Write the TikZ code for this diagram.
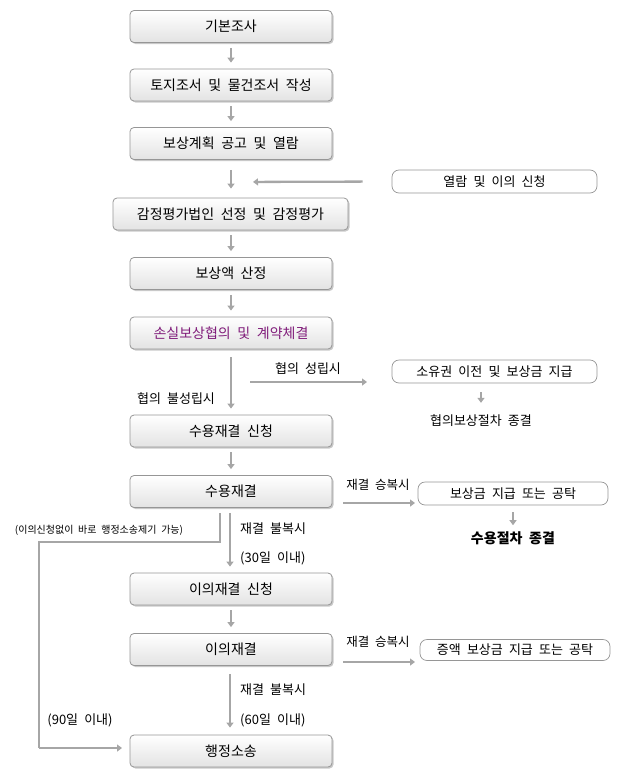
\documentclass[tikz,border=0pt]{standalone}
\usepackage{fontspec}
\setmainfont[WordSpace=2.1]{Noto Sans CJK KR}
\usetikzlibrary{arrows.meta,shadows}
\definecolor{arr}{RGB}{166,166,166}
\definecolor{bord}{RGB}{150,150,150}
\definecolor{purp}{RGB}{128,28,122}
\tikzset{
  mainbox/.style={draw=bord, line width=0.8pt, rounded corners=4pt, top color=white, bottom color=black!11,
    minimum width=202pt, minimum height=32pt, inner sep=0pt, font=\fontsize{14}{16}\selectfont,
    drop shadow={shadow xshift=1.5pt, shadow yshift=-1.5pt, opacity=0.3, fill=black!70}},
  sidebox/.style={draw=bord, line width=0.7pt, fill=white, rounded corners=7pt, minimum height=23pt,
    inner sep=0pt, font=\fontsize{13}{15}\selectfont},
  lbl/.style={inner sep=0pt, font=\fontsize{13}{15}\selectfont},
  lblL/.style={lbl, anchor=west},
  small/.style={inner sep=0pt, font=\fontsize{10}{12}\selectfont},
  conn/.style={draw=arr, line width=2.3pt, -{Triangle[width=7pt,length=5pt]}},
  plain/.style={draw=arr, line width=2.3pt},
}
\begin{document}
\begin{tikzpicture}[x=1pt,y=-1pt]
\useasboundingbox (0,0) rectangle (625,782);
% main boxes
\node[mainbox] (b1) at (231,26.5) {기본조사};
\node[mainbox] (b2) at (231,85) {토지조서 및 물건조서 작성};
\node[mainbox] (b3) at (231,143.5) {보상계획 공고 및 열람};
\node[mainbox, minimum width=235pt] (b4) at (230.5,214) {감정평가법인 선정 및 감정평가};
\node[mainbox] (b5) at (231,273.5) {보상액 산정};
\node[mainbox, text=purp] (b6) at (231,333) {손실보상협의 및 계약체결};
\node[mainbox] (b7) at (231,431) {수용재결 신청};
\node[mainbox] (b8) at (231,491.5) {수용재결};
\node[mainbox] (b9) at (231,589) {이의재결 신청};
\node[mainbox] (b10) at (231,649.5) {이의재결};
\node[mainbox] (b11) at (231,751) {행정소송};
% side boxes
\node[sidebox, minimum width=205pt] (s1) at (494.5,181.5) {열람 및 이의 신청};
\node[sidebox, minimum width=205pt] (s2) at (494.5,371.5) {소유권 이전 및 보상금 지급};
\node[sidebox, minimum width=190pt] (s3) at (513,493.5) {보상금 지급 또는 공탁};
\node[sidebox, minimum width=190pt, minimum height=21pt] (s4) at (515,650) {증액 보상금 지급 또는 공탁};
% texts
\node[lbl] (t1) at (481,421) {협의보상절차 종결};
\node[lbl, font=\fontsize{14}{16}\selectfont\bfseries] (t2) at (513,538) {수용절차 종결};
\node[lbl] (l1) at (308,369) {협의 성립시};
\node[lbl] (l2) at (176,399) {협의 불성립시};
\node[lbl, font=\fontsize{12.5}{14}\selectfont] (l3) at (378,485) {재결 승복시};
\node[lbl, font=\fontsize{12.5}{14}\selectfont] (l4) at (378,642) {재결 승복시};
\node[lblL] (l5) at (240,529) {재결 불복시};
\node[lblL] (l6) at (240,558) {(30일 이내)};
\node[lblL] (l7) at (240,690) {재결 불복시};
\node[lblL] (l8) at (240,720) {(60일 이내)};
\node[lbl] (l9) at (80,720) {(90일 이내)};
\node[small] (l10) at (99,530) {(이의신청없이 바로 행정소송제기 가능)};
% coordinates
\coordinate (m34) at (231,182);
\coordinate (h1) at (250,382);
\coordinate (h2) at (367,382);
\coordinate (p1) at (343,503);
\coordinate (p2) at (415,503);
\coordinate (q1) at (343,662);
\coordinate (q2) at (415,662);
\coordinate (v1) at (220,513);
\coordinate (v2) at (220,542);
\coordinate (v3) at (39,542);
\coordinate (v4) at (39,748);
\coordinate (v5) at (122,748);
% connectors
\draw[conn, shorten <=5pt, shorten >=6pt] (b1) -- (b2);
\draw[conn, shorten <=5pt, shorten >=6pt] (b2) -- (b3);
\draw[conn, shorten <=10pt, shorten >=9pt] (b3.south) -- (b4.north -| b3.south);
\draw[conn, shorten <=29pt, shorten >=22pt] (s1.west) -- (m34);
\draw[conn, shorten <=5pt, shorten >=6pt] (b4.south -| b5.north) -- (b5.north);
\draw[conn, shorten <=5pt, shorten >=6pt] (b5) -- (b6);
\draw[conn, shorten <=8pt, shorten >=6pt] (b6) -- (b7);
\draw[conn] (h1) -- (h2);
\draw[conn, shorten <=9pt, shorten >=12pt] (s2.south -| t1) -- (t1);
\draw[conn, shorten <=5pt, shorten >=6pt] (b7) -- (b8);
\draw[conn] (p1) -- (p2);
\draw[conn, shorten <=7pt, shorten >=6pt] (s3) -- (t2);
\draw[conn, shorten <=5pt, shorten >=6pt] ([xshift=-1pt]b8.south) -- ([xshift=-1pt]b9.north);
\draw[plain] (v1) -- (v2) -- (v3) -- (v4);
\draw[conn] (v4) -- (v5);
\draw[conn, shorten <=5pt, shorten >=6pt] (b9) -- (b10);
\draw[conn] (q1) -- (q2);
\draw[conn, shorten <=8pt, shorten >=7pt] ([xshift=-1pt]b10.south) -- ([xshift=-1pt]b11.north);
\end{tikzpicture}
\end{document}
